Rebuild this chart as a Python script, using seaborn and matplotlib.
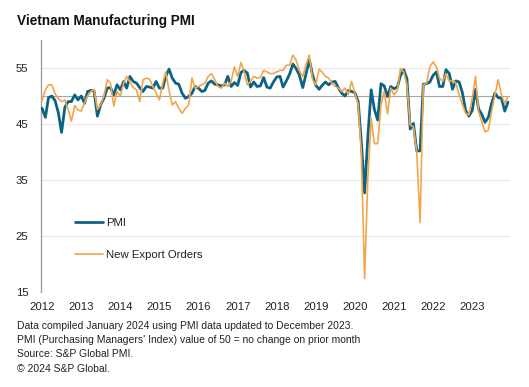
import pandas as pd
import seaborn as sns
import matplotlib.pyplot as plt
import matplotlib.dates as mdates

# monthly readings, Jan 2012 .. Dec 2023
pmi = [
    47.8, 46.2, 49.7, 50.0, 49.2, 47.0, 43.5, 48.0, 49.0, 49.0, 50.2, 49.3,   # 2012
    50.0, 48.7, 50.8, 51.0, 50.9, 46.4, 48.4, 49.6, 51.4, 51.5, 50.2, 52.0,   # 2013
    51.1, 52.6, 51.4, 53.5, 52.6, 52.3, 51.5, 50.8, 51.7, 51.6, 51.4, 52.6,   # 2014
    51.4, 51.4, 53.5, 54.8, 53.2, 52.3, 52.1, 50.5, 49.6, 49.9, 50.5, 51.7,   # 2015
    51.4, 50.8, 51.0, 52.3, 52.7, 52.1, 52.0, 51.8, 52.0, 53.5, 51.7, 52.4,   # 2016
    51.9, 54.2, 54.6, 54.1, 51.6, 52.5, 51.7, 51.8, 53.3, 51.6, 51.4, 52.5,   # 2017
    53.4, 53.5, 51.6, 52.7, 53.9, 55.7, 54.9, 53.7, 51.5, 53.9, 56.5, 53.8,   # 2018
    51.9, 51.2, 51.9, 52.5, 52.0, 52.5, 52.6, 51.4, 50.5, 50.0, 51.0, 50.8,   # 2019
    50.6, 49.0, 41.9, 32.7, 42.7, 51.1, 47.6, 45.7, 52.2, 51.8, 49.9, 51.7,   # 2020
    51.3, 51.6, 53.6, 54.7, 53.1, 44.1, 45.1, 40.2, 40.2, 52.1, 52.2, 52.5,   # 2021
    53.7, 54.3, 51.7, 51.7, 54.7, 54.0, 51.2, 52.7, 52.5, 50.6, 47.4, 46.4,   # 2022
    47.4, 51.2, 47.7, 46.7, 45.3, 46.2, 48.7, 50.5, 49.7, 49.6, 47.3, 48.9,   # 2023
]
export_orders = [
    49.2, 51.1, 52.0, 52.0, 50.4, 49.5, 49.0, 49.3, 47.5, 45.5, 48.3, 47.5,   # 2012
    47.3, 48.8, 50.0, 50.8, 51.2, 47.6, 48.4, 50.0, 52.9, 52.3, 48.2, 50.8,   # 2013
    50.0, 52.3, 53.5, 52.5, 51.5, 51.1, 49.0, 52.9, 53.2, 53.0, 51.7, 50.5,   # 2014
    49.3, 52.3, 54.3, 51.0, 48.4, 49.0, 47.8, 46.9, 47.8, 48.4, 53.2, 51.4,   # 2015
    51.7, 52.0, 52.3, 53.5, 54.0, 52.9, 51.7, 51.4, 52.3, 51.7, 52.6, 55.2,   # 2016
    53.5, 56.0, 54.5, 52.0, 52.6, 53.5, 53.2, 53.3, 54.6, 54.3, 54.0, 54.0,   # 2017
    54.3, 54.6, 54.6, 55.5, 55.5, 57.3, 56.4, 54.5, 53.5, 55.5, 57.3, 53.0,   # 2018
    52.0, 54.8, 54.3, 53.5, 53.2, 52.3, 51.7, 51.4, 50.8, 51.4, 50.3, 52.6,   # 2019
    50.5, 48.5, 40.0, 17.4, 35.3, 46.0, 41.5, 41.5, 48.4, 50.8, 46.8, 51.4,   # 2020
    50.2, 51.0, 54.9, 54.3, 52.0, 44.8, 44.5, 40.0, 27.4, 52.0, 52.3, 55.2,   # 2021
    56.1, 55.2, 53.2, 52.6, 54.0, 52.6, 52.8, 52.3, 50.2, 48.5, 46.9, 46.6,   # 2022
    49.6, 53.5, 47.2, 45.4, 43.6, 43.9, 47.2, 50.2, 52.9, 50.2, 48.7, 49.9,   # 2023
]
years = list(range(2012, 2024))
yticks = [15, 25, 35, 45, 55]

footer = [
    "Data compiled January 2024 using PMI data updated to December 2023.",
    "PMI (Purchasing Managers' Index) value of 50 = no change on prior month",
    "Source: S&P Global PMI.",
    "\u00a9 2024 S&P Global.",
]

dates = pd.date_range("2012-01-01", periods=len(pmi), freq="MS")
df = pd.DataFrame({"date": dates, "PMI": pmi, "New Export Orders": export_orders})

sns.set_theme(style="white")
plt.rcParams["font.family"] = ["Liberation Sans", "DejaVu Sans"]

fig = plt.figure(figsize=(5.29, 3.87), dpi=100)
ax = fig.add_axes([41 / 529, 1 - 292 / 387, 469 / 529, 252 / 387])

for y in yticks:
    ax.axhline(y, color="#ebebeb", lw=0.9, zorder=0)
ax.axhline(50, color="#a6a6a6", lw=0.8, zorder=1)

sns.lineplot(data=df, x="date", y="PMI", ax=ax, color="#0e6383", lw=2.0,
             label="PMI", zorder=3)
sns.lineplot(data=df, x="date", y="New Export Orders", ax=ax, color="#f2a64a",
             lw=1.2, label="New Export Orders", zorder=4)

ax.set_ylim(15, 60)
ax.set_xlim(pd.Timestamp("2011-12-22"), pd.Timestamp("2023-12-20"))
ax.set_yticks(yticks)
ax.set_xticks([pd.Timestamp(f"{y}-01-01") for y in years])
ax.xaxis.set_major_formatter(mdates.DateFormatter("%Y"))
ax.tick_params(axis="both", length=0, labelsize=8.2, colors="#222222")
ax.tick_params(axis="x", pad=7)
ax.tick_params(axis="y", pad=9)
ax.set_xlabel("")
ax.set_ylabel("")

for s in ["top", "right", "bottom"]:
    ax.spines[s].set_visible(False)
ax.spines["left"].set_color("#a0a0a0")
ax.spines["left"].set_linewidth(1.0)

leg = ax.legend(loc="lower left", bbox_to_anchor=(0.05, 0.085), frameon=False,
                fontsize=8.2, handlelength=2.5, labelspacing=1.95,
                handletextpad=0.25)
for t in leg.get_texts():
    t.set_color("#222222")

fig.text(17 / 529, 1 - 21 / 387, "Vietnam Manufacturing PMI", fontsize=9.8,
         fontweight="bold", va="center", ha="left", color="#111111")
for i, line in enumerate(footer):
    fig.text(17 / 529, 1 - (326 + i * 14.2) / 387, line, fontsize=7.45,
             va="center", ha="left", color="#222222")

fig.savefig("out.png", dpi=100)
